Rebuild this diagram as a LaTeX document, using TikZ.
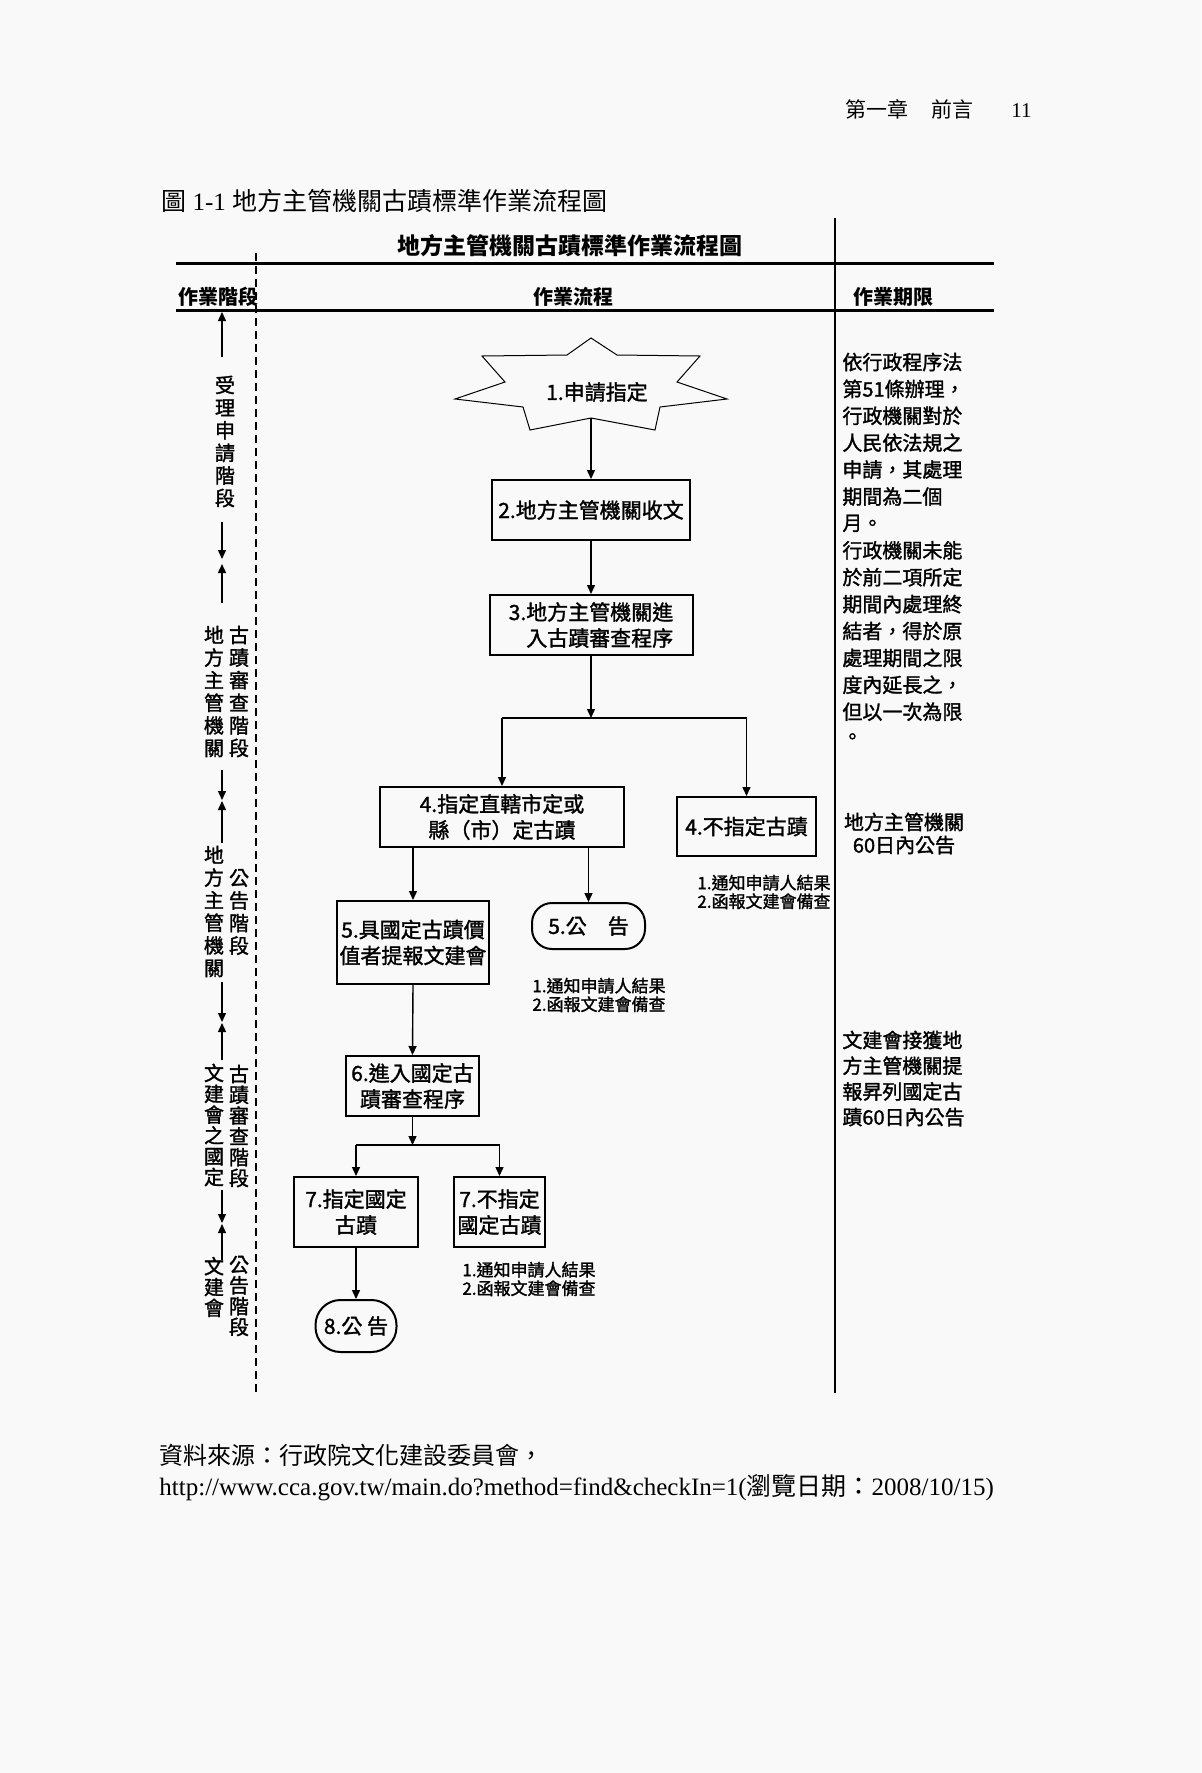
\documentclass[tikz,border=0pt]{standalone}
\usepackage{fontspec}
\setmainfont{Liberation Serif}
\newfontfamily\cjk{Noto Sans CJK TC}
\newfontfamily\cjkb{Noto Sans CJK TC}[FakeBold=1.5]
\usetikzlibrary{arrows.meta}
\definecolor{pagebg}{RGB}{249,249,249}
\begin{document}
\begin{tikzpicture}[x=0.5pt,y=-0.5pt,
  box/.style={draw,line width=1pt,inner sep=0pt,align=center,font=\cjkb\fontsize{10.5}{13}\selectfont},
  conn/.style={line width=0.7pt},
  arr/.style={line width=0.7pt,-{Triangle[length=4.5pt,width=4pt]}},
  note/.style={anchor=west,align=left,inner sep=0pt,font=\cjkb\fontsize{8.5}{9.3}\selectfont},
  vcol/.style={align=center,inner sep=0pt,font=\cjkb\fontsize{10}{11.3}\selectfont},
  vcolb/.style={align=center,inner sep=0pt,font=\cjkb\fontsize{10}{10.4}\selectfont},
  rtext/.style={anchor=west,inner sep=0pt,font=\cjkb\fontsize{10}{12}\selectfont},
  hlabel/.style={inner sep=0pt,font=\cjk\bfseries\fontsize{10}{12}\selectfont}]
\fill[pagebg] (0,0) rectangle (1201,1773);
\useasboundingbox (0,0) rectangle (1201,1773);

% page header and caption
\node[anchor=west,inner sep=0pt,font=\cjk\fontsize{10.5}{12}\selectfont] (hdr) at (845,109)
  {第一章\hspace{11.5pt}前言\hspace{19pt}{\rmfamily 11}};
\node[anchor=west,inner sep=0pt,font=\fontsize{12.5}{14}\selectfont] (cap) at (161,201)
  {{\cjk 圖} 1-1 {\cjk 地方主管機關古蹟標準作業流程圖}};

% table frame
\node[font=\cjk\bfseries\fontsize{11.5}{13}\selectfont,inner sep=0pt] (title) at (570,246) {地方主管機關古蹟標準作業流程圖};
\draw[line width=1.5pt] (176,263) -- (994,263);
\draw[line width=1.5pt] (176,310) -- (994,310);
\draw[line width=0.8pt] (835,218) -- (835,1393);
\draw[line width=0.7pt,dash pattern=on 4pt off 2.5pt] (256,253) -- (256,1393);
\node[hlabel] (h1) at (218,297) {作業階段};
\node[hlabel] (h2) at (573,297) {作業流程};
\node[hlabel] (h3) at (893,297) {作業期限};

% left column: stages
\coordinate (a1s) at (222,357); \coordinate (a1e) at (222,312);
\draw[arr] (a1s) -- (a1e);
\node[vcol] (l1) at (225,441.5) {受\\理\\申\\請\\階\\段};
\coordinate (a2s) at (222,522); \coordinate (a2e) at (222,559);
\draw[arr] (a2s) -- (a2e);
\coordinate (a3s) at (222,603); \coordinate (a3e) at (222,564);
\draw[arr] (a3s) -- (a3e);
\node[vcol] (l2a) at (214,691.5) {地\\方\\主\\管\\機\\關};
\node[vcol] (l2b) at (239,691.5) {古\\蹟\\審\\查\\階\\段};
\coordinate (a4s) at (222,770); \coordinate (a4e) at (222,800);
\draw[arr] (a4s) -- (a4e);
\coordinate (a5s) at (222,843); \coordinate (a5e) at (222,801);
\draw[arr] (a5s) -- (a5e);
\node[vcol] (l3a) at (214,911.5) {地\\方\\主\\管\\機\\關};
\node[vcol] (l3b) at (239,912) {公\\告\\階\\段};
\coordinate (a6s) at (222,982); \coordinate (a6e) at (222,1022);
\draw[arr] (a6s) -- (a6e);
\coordinate (a7s) at (222,1060); \coordinate (a7e) at (222,1023);
\draw[arr] (a7s) -- (a7e);
\node[vcolb] (l4a) at (214,1125) {文\\建\\會\\之\\國\\定};
\node[vcolb] (l4b) at (239,1126) {古\\蹟\\審\\查\\階\\段};
\coordinate (a8s) at (222,1190); \coordinate (a8e) at (222,1223);
\draw[arr] (a8s) -- (a8e);
\coordinate (a9s) at (222,1260); \coordinate (a9e) at (222,1224);
\draw[arr] (a9s) -- (a9e);
\node[vcolb] (l5a) at (214,1287) {文\\建\\會};
\node[vcolb] (l5b) at (239,1296) {公\\告\\階\\段};

% star 1
\draw[line width=0.5pt] (591,338) -- (617,355) -- (700,356) -- (677,382) -- (727,399) -- (660,407)
  -- (655,430) -- (591,418) -- (530,430) -- (523,407) -- (455,399) -- (505,382) -- (482,356)
  -- (567,355) -- cycle;
\node[inner sep=0pt,font=\cjkb\fontsize{10.5}{13}\selectfont] (s1) at (597,392) {1.申請指定};
\coordinate (s1b) at (591,418);

% boxes
\node[box,minimum width=99pt,minimum height=30pt] (b2) at (591,510) {2.地方主管機關收文};
\node[box,align=right,minimum width=101.5pt,minimum height=30pt] (b3) at (591,625) {3.地方主管機關進\\入古蹟審查程序};
\node[box,minimum width=122pt,minimum height=30pt] (b4a) at (502,817) {4.指定直轄市定或\\縣（市）定古蹟};
\node[box,minimum width=69.5pt,minimum height=29.5pt] (b4b) at (746.5,826.5) {4.不指定古蹟};
\node[box,minimum width=76pt,minimum height=41.5pt] (b5a) at (413,942.5) {5.具國定古蹟價\\值者提報文建會};
\node[box,rounded corners=10pt,minimum width=56.5pt,minimum height=23pt] (b5b) at (588.5,926) {5.公\hspace{10.5pt}告};
\node[box,minimum width=66.5pt,minimum height=30pt] (b6) at (412.5,1086) {6.進入國定古\\蹟審查程序};
\node[box,minimum width=62pt,minimum height=35pt] (b7a) at (356,1212) {7.指定國定\\古蹟};
\node[box,minimum width=45.5pt,minimum height=35pt] (b7b) at (499.5,1212) {7.不指定\\國定古蹟};
\node[box,rounded corners=12.5pt,minimum width=40.5pt,minimum height=26pt] (b8) at (356,1326) {8.公 告};

% notes
\node[note] (n4b) at (697,892) {1.通知申請人結果\\2.函報文建會備查};
\node[note] (n5b) at (532,995) {1.通知申請人結果\\2.函報文建會備查};
\node[note] (n7b) at (462,1279) {1.通知申請人結果\\2.函報文建會備查};

% connectors
\draw[arr] (s1b) -- (s1b |- b2.north);
\draw[arr] (b2.south) -- (b3.north);
\coordinate (j1) at (591,718);
\draw[arr] (b3.south) -- (j1);
\draw[conn] (j1 -| b4a.north) -- (j1 -| b4b.north);
\draw[arr] (j1 -| b4a.north) -- (b4a.north);
\draw[arr] (j1 -| b4b.north) -- (b4b.north);
\draw[arr] (b4a.south -| b5a.north) -- (b5a.north);
\draw[arr] (b4a.south -| b5b.north) -- (b5b.north);
\draw[arr] (b5a.south) -- (b6.north);
\coordinate (j2) at (412.5,1145);
\draw[arr] (b6.south) -- (j2);
\draw[conn] (j2 -| b7a.north) -- (j2 -| b7b.north);
\draw[arr] (j2 -| b7a.north) -- (b7a.north);
\draw[arr] (j2 -| b7b.north) -- (b7b.north);
\draw[arr] (b7a.south) -- (b8.north);

% right column: time limits
\foreach \t [count=\i from 0] in {依行政程序法,第51條辦理，,行政機關對於,人民依法規之,申請，其處理,期間為二個,月。,行政機關未能,於前二項所定,期間內處理終,結者，得於原,處理期間之限,度內延長之，,但以一次為限,。}
  \node[rtext] (ra\i) at (842,{362+26.9*\i}) {\t};
\node[align=center,inner sep=0pt,font=\cjkb\fontsize{10}{11.5}\selectfont] (rb) at (904,833.5) {地方主管機關\\60日內公告};
\foreach \t [count=\i from 0] in {文建會接獲地,方主管機關提,報昇列國定古,蹟60日內公告}
  \node[rtext] (rc\i) at (842,{1040+25.7*\i}) {\t};

% source
\node[anchor=west,inner sep=0pt,font=\cjk\fontsize{12}{14}\selectfont] (src1) at (159,1455) {資料來源：行政院文化建設委員會，};
\node[anchor=west,inner sep=0pt,font=\fontsize{12.5}{14}\selectfont] (src2) at (159,1488)
  {http://www.cca.gov.tw/main.do?method=find\&checkIn=1({\cjk 瀏覽日期：}2008/10/15)};
\end{tikzpicture}
\end{document}
